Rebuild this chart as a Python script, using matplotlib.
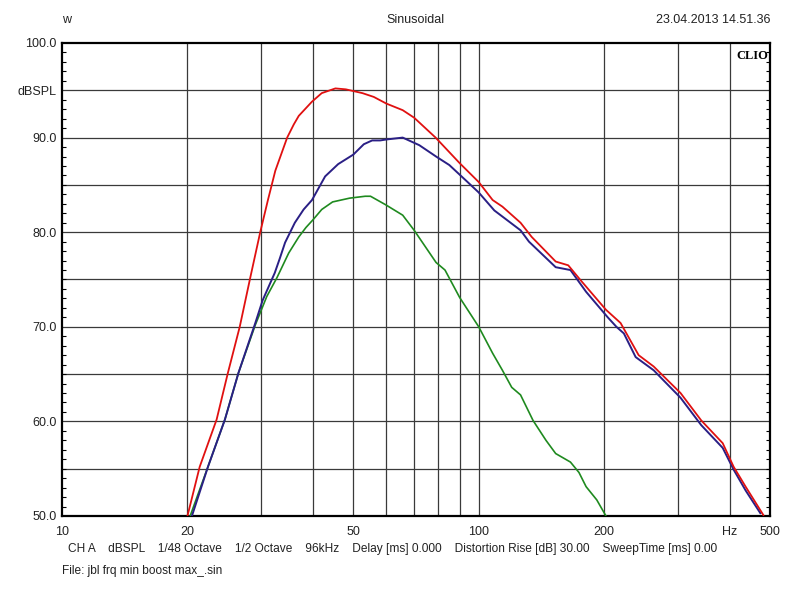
import numpy as np
import matplotlib
matplotlib.use("Agg")
import matplotlib.pyplot as plt
from matplotlib.ticker import FixedLocator, NullFormatter

plt.rcParams['font.family'] = ['Liberation Sans', 'DejaVu Sans']

# curves (Hz, dBSPL)
red_f = [20.0, 21.4, 23.5, 25.0, 26.7, 28.3, 29.9, 31.2, 32.5, 34.7, 36.0, 37.0, 39.8, 42.0, 45.3, 48.0, 52.6, 56.0,
         60, 65.7, 70, 78.8, 90, 100, 108, 114, 126, 134, 153, 164, 175, 202, 219, 242, 263, 305, 342, 385, 409, 437, 482]
red_db = [50.0, 55.2, 60.2, 65.1, 70.0, 75.2, 80.0, 83.4, 86.5, 90.0, 91.4, 92.3, 93.8, 94.7, 95.2, 95.1, 94.7, 94.3,
          93.6, 92.9, 92.1, 90.0, 87.3, 85.3, 83.4, 82.7, 81.0, 79.5, 76.9, 76.5, 75.0, 71.8, 70.4, 67.0, 65.8, 63.0, 60.1,
          57.7, 55.2, 53.1, 50.1]

blue_f = [20.5, 22.4, 24.6, 26.5, 29.1, 30.3, 32.4, 33.3, 34.3, 36.2, 38.0, 39.8, 42.8, 46.0, 50, 53.0, 55.5, 58.0,
          60, 65.7, 72, 79, 85, 93, 100, 109, 126, 132, 153, 166, 181, 204, 214, 223, 238, 263, 305, 342, 385, 409, 437, 474]
blue_db = [50.0, 55.2, 60.2, 65.1, 70.4, 72.8, 75.7, 77.2, 78.9, 81.0, 82.4, 83.4, 85.9, 87.2, 88.2, 89.3, 89.7, 89.7,
           89.8, 90.0, 89.2, 88.0, 87.1, 85.5, 84.2, 82.3, 80.2, 79.0, 76.3, 76.0, 73.7, 71.0, 70.0, 69.3, 66.8, 65.4, 62.5,
           59.6, 57.2, 54.9, 52.7, 50.3]

green_f = [20.3, 22.4, 24.6, 26.5, 29.1, 31.0, 32.8, 35, 37, 38.5, 40, 42.0, 44.6, 49, 53.4, 55, 59.8, 65.7, 70, 79, 83,
           90, 100, 108, 114, 120, 126, 135, 145, 153, 166, 174, 181, 192, 202]
green_db = [50.0, 55.2, 60.2, 65.1, 70.2, 73.2, 75.2, 77.8, 79.5, 80.5, 81.3, 82.4, 83.2, 83.6, 83.8, 83.8, 82.9, 81.8,
            80.2, 76.8, 76.0, 73.1, 70.0, 67.2, 65.4, 63.6, 62.8, 60.1, 58.0, 56.6, 55.7, 54.6, 53.1, 51.7, 50.0]

grid_f = [20, 30, 40, 50, 60, 70, 80, 90, 100, 200, 300, 400]
grid_db = [55, 60, 65, 70, 75, 80, 85, 90, 95]
xtick_vals = [10, 20, 50, 100, 200, 400, 500]
xtick_labels = ['10', '20', '50', '100', '200', 'Hz', '500']
ytick_vals = [50, 60, 70, 80, 90, 95, 100]
ytick_labels = ['50.0', '60.0', '70.0', '80.0', '90.0', 'dBSPL', '100.0']

footer = ("CH A    dBSPL    1/48 Octave    1/2 Octave    96kHz    Delay [ms] 0.000    "
          "Distortion Rise [dB] 30.00    SweepTime [ms] 0.00")

fig = plt.figure(figsize=(8, 6), dpi=100)
ax = fig.add_axes([62/800, 84/600, 708/800, 473/600])
ax.set_xscale('log')
ax.set_xlim(10, 500)
ax.set_ylim(50, 100)

for f in grid_f:
    ax.axvline(f, color='#3a3a3a', lw=0.9, zorder=1)
for d in grid_db:
    ax.axhline(d, color='#3a3a3a', lw=0.9, zorder=1)

ax.plot(green_f, green_db, color='#1f8a1f', lw=1.2, zorder=3)
ax.plot(blue_f, blue_db, color='#2a1f85', lw=1.4, zorder=3)
ax.plot(red_f, red_db, color='#e01010', lw=1.3, zorder=4)

ax.xaxis.set_major_locator(FixedLocator(xtick_vals))
ax.set_xticklabels(xtick_labels)
ax.xaxis.set_minor_formatter(NullFormatter())
ax.xaxis.set_minor_locator(FixedLocator([]))
ax.tick_params(axis='x', which='major', length=0, pad=7, labelsize=9, labelcolor='#222222')

ax.yaxis.set_major_locator(FixedLocator(ytick_vals))
ax.set_yticklabels(ytick_labels)
ax.yaxis.set_minor_locator(FixedLocator(np.arange(51, 100, 1)))
ax.tick_params(axis='y', which='major', length=0, pad=4, labelsize=9, labelcolor='#222222')
ax.tick_params(axis='y', which='minor', direction='in', length=3, width=0.8, left=True, right=True)

for s in ax.spines.values():
    s.set_linewidth(1.6)
    s.set_color('black')

ax.text(0.998, 0.985, 'CLIO', transform=ax.transAxes, ha='right', va='top',
        fontsize=9, fontweight='bold', family='Liberation Serif')

fig.text(62/800, 1 - 20/600, 'w', ha='left', va='center', fontsize=9, color='#222222')
fig.text(415/800, 1 - 20/600, 'Sinusoidal', ha='center', va='center', fontsize=9, color='#222222')
fig.text(770/800, 1 - 20/600, '23.04.2013 14.51.36', ha='right', va='center', fontsize=9, color='#222222')
fig.text(68/800, 1 - 549/600, footer, ha='left', va='center', fontsize=8.6, color='#222222')
fig.text(62/800, 1 - 571/600, 'File: jbl frq min boost max_.sin', ha='left', va='center', fontsize=8.6, color='#222222')

fig.savefig('out.png', dpi=100)
